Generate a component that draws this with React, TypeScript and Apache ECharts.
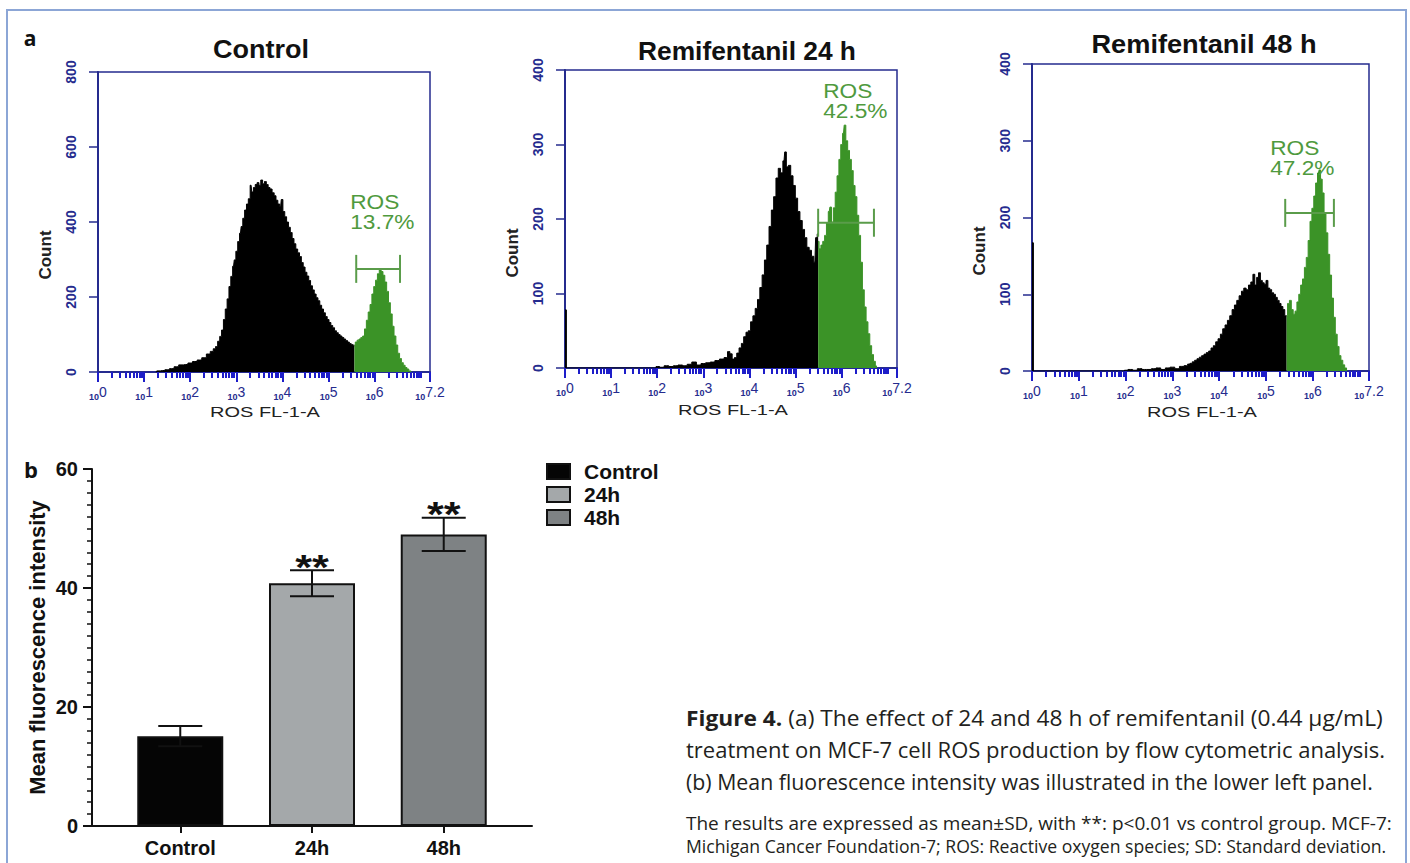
import React, { useEffect, useRef } from "react";
import * as echarts from "echarts";

// ---------------- data ----------------
const histTitles = ["Control", "Remifentanil 24 h", "Remifentanil 48 h"];
const histYMax = [800, 400, 400];
const histYInterval = [200, 100, 100];
const rosPercent = ["13.7%", "42.5%", "47.2%"];
const majorLogTicks = [0, 1, 2, 3, 4, 5, 6, 7.2];
const minorLogTicks: number[] = [];
for (let d = 0; d <= 6; d++) {
  for (let k = 2; k <= 9; k++) minorLogTicks.push(+(d + Math.log10(k)).toFixed(4));
}
minorLogTicks.push(7);

// [log10 fluorescence, count]
const controlBlack = [
  [1.25, 0], [1.3, 3], [1.4, 4], [1.5, 6], [1.6, 9], [1.7, 14], [1.8, 19], [1.9, 20], [2.0, 24], [2.1, 28],
  [2.2, 32], [2.3, 38], [2.4, 48], [2.47, 55], [2.53, 62], [2.57, 68], [2.62, 82], [2.66, 95], [2.7, 112],
  [2.74, 140], [2.78, 168], [2.82, 195], [2.86, 228], [2.9, 255], [2.94, 282], [2.97, 299], [3.01, 322],
  [3.05, 348], [3.09, 370], [3.12, 388], [3.16, 410], [3.2, 432], [3.24, 448], [3.28, 462], [3.32, 498],
  [3.35, 480], [3.39, 492], [3.43, 500], [3.47, 505], [3.51, 498], [3.55, 512], [3.59, 502], [3.63, 508],
  [3.67, 500], [3.71, 492], [3.75, 488], [3.8, 478], [3.84, 470], [3.88, 458], [3.92, 448], [3.96, 440],
  [3.99, 460], [4.03, 428], [4.07, 414], [4.11, 400], [4.15, 386], [4.19, 372], [4.23, 356], [4.27, 342],
  [4.31, 328], [4.35, 318], [4.39, 308], [4.43, 292], [4.47, 280], [4.51, 266], [4.55, 256], [4.59, 244],
  [4.63, 230], [4.67, 219], [4.71, 208], [4.75, 198], [4.79, 190], [4.83, 178], [4.87, 168], [4.91, 158],
  [4.95, 148], [4.99, 140], [5.03, 132], [5.07, 124], [5.11, 118], [5.15, 110], [5.19, 105], [5.23, 100],
  [5.27, 96], [5.31, 92], [5.35, 88], [5.39, 84], [5.43, 80], [5.47, 76], [5.51, 73], [5.56, 70],
];
const controlGreen = [
  [5.56, 72], [5.6, 80], [5.64, 85], [5.68, 88], [5.72, 92], [5.76, 96], [5.8, 115], [5.84, 138], [5.88, 160],
  [5.92, 180], [5.96, 208], [6.0, 228], [6.04, 245], [6.08, 262], [6.12, 272], [6.16, 268], [6.2, 258],
  [6.24, 240], [6.28, 215], [6.32, 185], [6.36, 155], [6.4, 122], [6.44, 96], [6.48, 72], [6.52, 50],
  [6.56, 36], [6.6, 25], [6.64, 18], [6.68, 12], [6.72, 8], [6.76, 3], [6.8, 0],
];
const h24Black = [
  [0, 78], [0.06, 0], [1.95, 0], [2.0, 2], [2.1, 1], [2.2, 3], [2.3, 2], [2.4, 3], [2.5, 4], [2.6, 3], [2.7, 5],
  [2.8, 8], [2.9, 4], [3.0, 6], [3.1, 7], [3.2, 8], [3.3, 10], [3.4, 12], [3.5, 14], [3.55, 22], [3.6, 19],
  [3.65, 12], [3.7, 14], [3.75, 20], [3.8, 27], [3.85, 33], [3.9, 42], [3.95, 48], [4.0, 50], [4.05, 62],
  [4.1, 70], [4.15, 80], [4.2, 92], [4.25, 108], [4.3, 125], [4.35, 145], [4.4, 165], [4.45, 190], [4.5, 212],
  [4.55, 230], [4.6, 255], [4.65, 268], [4.7, 262], [4.75, 278], [4.78, 290], [4.82, 270], [4.87, 272],
  [4.92, 258], [4.97, 245], [5.02, 228], [5.07, 210], [5.12, 198], [5.17, 186], [5.22, 175], [5.27, 162],
  [5.32, 158], [5.37, 150], [5.42, 142], [5.45, 175], [5.49, 180],
];
const h24Green = [
  [5.49, 170], [5.53, 160], [5.57, 165], [5.61, 170], [5.65, 178], [5.69, 195], [5.73, 210], [5.76, 216],
  [5.8, 196], [5.84, 215], [5.88, 236], [5.92, 258], [5.96, 280], [6.0, 300], [6.04, 315], [6.07, 326],
  [6.11, 305], [6.15, 292], [6.19, 280], [6.23, 265], [6.27, 245], [6.31, 230], [6.35, 205], [6.39, 178],
  [6.43, 142], [6.47, 105], [6.51, 82], [6.55, 62], [6.59, 46], [6.63, 30], [6.67, 18], [6.71, 9], [6.75, 3],
  [6.78, 0],
];
const h48Black = [
  [0, 167], [0.06, 0], [1.95, 0], [2.0, 1], [2.1, 2], [2.2, 1], [2.3, 3], [2.4, 2], [2.5, 2], [2.6, 3], [2.7, 4],
  [2.8, 2], [2.9, 4], [3.0, 5], [3.1, 3], [3.2, 6], [3.3, 7], [3.35, 9], [3.4, 10], [3.45, 12], [3.5, 14],
  [3.55, 16], [3.6, 18], [3.65, 20], [3.7, 22], [3.75, 24], [3.8, 26], [3.85, 30], [3.9, 33], [3.95, 38],
  [4.0, 42], [4.05, 48], [4.1, 55], [4.15, 60], [4.2, 66], [4.25, 72], [4.3, 80], [4.35, 86], [4.4, 92],
  [4.45, 98], [4.5, 104], [4.55, 108], [4.6, 106], [4.65, 112], [4.7, 116], [4.74, 126], [4.78, 112],
  [4.82, 122], [4.86, 128], [4.9, 118], [4.94, 115], [4.98, 113], [5.02, 118], [5.06, 108], [5.1, 106],
  [5.14, 102], [5.18, 100], [5.22, 96], [5.26, 92], [5.3, 88], [5.34, 84], [5.38, 80], [5.42, 72], [5.44, 72],
];
const h48Green = [
  [5.44, 72], [5.48, 88], [5.52, 92], [5.56, 80], [5.6, 74], [5.64, 78], [5.68, 90], [5.72, 100], [5.76, 112],
  [5.8, 120], [5.84, 135], [5.88, 148], [5.92, 170], [5.96, 195], [6.0, 212], [6.04, 228], [6.08, 245],
  [6.12, 258], [6.15, 262], [6.18, 250], [6.22, 232], [6.26, 205], [6.3, 180], [6.34, 152], [6.38, 125],
  [6.42, 95], [6.46, 70], [6.5, 48], [6.54, 32], [6.58, 20], [6.62, 14], [6.66, 8], [6.7, 4], [6.74, 0],
];
// gate: [start exp, end exp, count]
const controlGate = [5.6, 6.55, 275];
const h24Gate = [5.49, 6.7, 195];
const h48Gate = [5.41, 6.45, 206];
// "ROS" label anchor: [exp, count]
const controlRosAt = [5.47, 453];
const h24RosAt = [5.6, 372];
const h48RosAt = [5.09, 291];

const histBlack = [controlBlack, h24Black, h48Black];
const histGreen = [controlGreen, h24Green, h48Green];
const histGates = [controlGate, h24Gate, h48Gate];
const histRosAt = [controlRosAt, h24RosAt, h48RosAt];

const barCategories = ["Control", "24h", "48h"];
const barMeans = [15.1, 40.8, 49.0];
const barSD = [1.7, 2.2, 2.8];
const barSig = ["", "**", "**"];

const captionLines = [
  "(a) The effect of 24 and 48 h of remifentanil (0.44 µg/mL)",
  "treatment on MCF-7 cell ROS production by flow cytometric analysis.",
  "(b) Mean fluorescence intensity was illustrated in the lower left panel.",
];
const captionBoldLead = "Figure 4.";
const noteLines = [
  "The results are expressed as mean±SD, with **: p<0.01 vs control group. MCF-7:",
  "Michigan Cancer Foundation-7; ROS: Reactive oxygen species; SD: Standard deviation.",
];

// ---------------- layout / style ----------------
const NAVY = "#252b8e";
const TICK_BLUE = "#1d1dc9";
const FILL_GREEN = "#3b9327";
const TEXT_GREEN = "#4f9a3e";
const GATE_GREEN = "#5a9c4a";
const barColors = ["#050505", "#a4a8aa", "#7e8284"];
const histGrids = [
  { left: 98, top: 72, width: 332, height: 300 },
  { left: 565, top: 70, width: 332, height: 298 },
  { left: 1032, top: 64, width: 337, height: 307 },
];
const titlePos = [[261, 49, 96], [747, 51, 218], [1204, 44, 225]];
const countPos = [[45, 255], [512, 253], [979, 251]];
const xNamePos = [[265, 412], [733, 410], [1202, 412]];
const captionLeft = 686;
const captionRight = [1383, 1385, 1373];
const captionY = [718, 749, 781];
const noteRight = [1392, 1387];
const noteY = [823, 846];
const CAP_FONT = '"Open Sans", sans-serif';

function buildOption() {
  const ctx = document.createElement("canvas").getContext("2d") as CanvasRenderingContext2D;
  const measure = (t: string, font: string) => {
    ctx.font = font;
    return ctx.measureText(t).width;
  };

  const xAxes: any[] = [];
  const yAxes: any[] = [];
  const grids: any[] = [];
  const series: any[] = [];

  histGrids.forEach((g, i) => {
    grids.push({ ...g, show: true, borderColor: NAVY, borderWidth: 1.5, backgroundColor: "transparent", containLabel: false, outerBoundsMode: "none" });
    xAxes.push({
      type: "value", gridIndex: i, min: 0, max: 7.2, position: "bottom",
      axisLine: { show: true, onZero: false, lineStyle: { color: NAVY, width: 2 } },
      axisTick: { show: true, customValues: majorLogTicks, length: 10, lineStyle: { color: TICK_BLUE, width: 2 } },
      axisLabel: {
        show: true, customValues: majorLogTicks, margin: 15, color: NAVY,
        formatter: (v: number) => `{b|10}{e|${v}}`,
        rich: {
          b: { fontSize: 9, fontWeight: "bold", color: NAVY, fontFamily: "Arial", verticalAlign: "bottom", lineHeight: 10 },
          e: { fontSize: 14, color: NAVY, fontFamily: "Arial", verticalAlign: "bottom", lineHeight: 14, padding: [0, 0, 2, 0] },
        },
      },
      splitLine: { show: false },
    });
    xAxes.push({
      type: "value", gridIndex: i, min: 0, max: 7.2, position: "bottom",
      axisLine: { show: false },
      axisTick: { show: true, customValues: minorLogTicks, length: 6, lineStyle: { color: TICK_BLUE, width: 2 } },
      axisLabel: { show: false },
      splitLine: { show: false },
    });
    yAxes.push({
      type: "value", gridIndex: i, min: 0, max: histYMax[i], interval: histYInterval[i],
      axisLine: { show: true, onZero: false, lineStyle: { color: NAVY, width: 2 } },
      axisTick: { show: true, length: 9, lineStyle: { color: NAVY, width: 1.5 } },
      axisLabel: { rotate: 90, margin: 20, color: NAVY, fontWeight: "bold", fontSize: 14, fontFamily: "Arial" },
      splitLine: { show: false },
    });
    series.push({
      type: "line", xAxisIndex: 2 * i, yAxisIndex: i, data: histBlack[i], step: "middle", symbol: "none",
      lineStyle: { color: "#000", width: 1 }, areaStyle: { color: "#000", opacity: 1 }, silent: true, z: 2,
    });
    series.push({
      type: "line", xAxisIndex: 2 * i, yAxisIndex: i, data: histGreen[i], step: "middle", symbol: "none",
      lineStyle: { color: FILL_GREEN, width: 1 }, areaStyle: { color: FILL_GREEN, opacity: 1 }, silent: true, z: 2,
    });
    series.push({
      type: "custom", xAxisIndex: 2 * i, yAxisIndex: i, silent: true, z: 5,
      data: [[...histGates[i], ...histRosAt[i]]],
      renderItem: (params: any, api: any) => {
        const a = api.coord([api.value(0), api.value(2)]);
        const b = api.coord([api.value(1), api.value(2)]);
        const lab = api.coord([api.value(3), api.value(4)]);
        const st = { stroke: GATE_GREEN, lineWidth: 2 };
        const ts = { fill: TEXT_GREEN, fontSize: 21, fontFamily: "Arial", align: "left", verticalAlign: "middle" };
        return {
          type: "group",
          children: [
            { type: "line", shape: { x1: a[0], y1: a[1], x2: b[0], y2: b[1] }, style: st },
            { type: "line", shape: { x1: a[0], y1: a[1] - 14, x2: a[0], y2: a[1] + 14 }, style: st },
            { type: "line", shape: { x1: b[0], y1: b[1] - 14, x2: b[0], y2: b[1] + 14 }, style: st },
            { type: "text", x: lab[0], y: lab[1], scaleX: 1.08, style: { ...ts, text: "ROS" } },
            { type: "text", x: lab[0], y: lab[1] + 20, scaleX: 1.08, style: { ...ts, text: rosPercent[i] } },
          ],
        };
      },
    });
  });

  // bar chart
  grids.push({ left: 92, top: 469, width: 440, height: 357, containLabel: false, outerBoundsMode: "none" });
  xAxes.push({
    type: "value", gridIndex: 3, min: -0.67, max: 2.67, position: "bottom",
    axisLine: { show: true, onZero: false, lineStyle: { color: "#111", width: 2 } },
    axisTick: { show: true, customValues: [0, 1, 2], length: 7, lineStyle: { color: "#111", width: 2 } },
    axisLabel: {
      customValues: [0, 1, 2], formatter: (v: number) => barCategories[Math.round(v)],
      fontSize: 20, fontWeight: "bold", color: "#111", fontFamily: "Arial", margin: 12,
    },
    splitLine: { show: false },
  });
  yAxes.push({
    type: "value", gridIndex: 3, min: 0, max: 60, interval: 20, position: "left",
    name: "Mean fluorescence intensity", nameLocation: "middle", nameGap: 44,
    nameTextStyle: { fontSize: 22, fontWeight: "bold", color: "#111", fontFamily: "Arial" },
    axisLine: { show: true, onZero: false, lineStyle: { color: "#111", width: 2 } },
    axisTick: { show: true, length: 9, lineStyle: { color: "#111", width: 2 } },
    minorTick: { show: true, splitNumber: 10, length: 5, lineStyle: { color: "#111", width: 1.5 } },
    axisLabel: { fontSize: 20, fontWeight: "bold", color: "#111", fontFamily: "Arial", margin: 14 },
    splitLine: { show: false },
    minorSplitLine: { show: false },
  });
  barCategories.forEach((name, i) => {
    series.push({
      type: "bar", name, xAxisIndex: 6, yAxisIndex: 3, data: [[i, barMeans[i]]], barWidth: 86, barGap: "-100%",
      itemStyle: { color: barColors[i], borderColor: "#111", borderWidth: 2 }, silent: true,
    });
  });
  series.push({
    type: "custom", xAxisIndex: 6, yAxisIndex: 3, silent: true, z: 10,
    data: barMeans.map((m, i) => [i, m - barSD[i], m + barSD[i]]),
    renderItem: (params: any, api: any) => {
      const x = api.value(0);
      const lo = api.coord([x, api.value(1)]);
      const hi = api.coord([x, api.value(2)]);
      const st = { stroke: "#111", lineWidth: 2 };
      const children: any[] = [
        { type: "line", shape: { x1: lo[0], y1: lo[1], x2: hi[0], y2: hi[1] }, style: st },
        { type: "line", shape: { x1: hi[0] - 22, y1: hi[1], x2: hi[0] + 22, y2: hi[1] }, style: st },
        { type: "line", shape: { x1: lo[0] - 22, y1: lo[1], x2: lo[0] + 22, y2: lo[1] }, style: st },
      ];
      const sig = barSig[params.dataIndex];
      if (sig) {
        children.push({
          type: "text", x: hi[0], y: hi[1] - 4, scaleX: 1.2,
          style: { text: sig, fontSize: 36, fontWeight: "bold", fontFamily: "Arial", fill: "#111", align: "center", verticalAlign: "middle" },
        });
      }
      return { type: "group", children };
    },
  });

  // graphic texts
  const elements: any[] = [];
  elements.push({ type: "rect", shape: { x: 7, y: 10, width: 1399, height: 900 }, style: { fill: "none", stroke: "#8ca6d6", lineWidth: 2 }, silent: true });
  elements.push({ type: "text", x: 30, y: 38, style: { text: "a", fontSize: 21, fontWeight: "bold", fontFamily: CAP_FONT, fill: "#111", align: "center", verticalAlign: "middle" } });
  elements.push({ type: "text", x: 31, y: 469, style: { text: "b", fontSize: 22, fontWeight: "bold", fontFamily: CAP_FONT, fill: "#111", align: "center", verticalAlign: "middle" } });
  histTitles.forEach((t, i) => {
    const [x, y, w] = titlePos[i];
    const nat = measure(t, 'bold 25px Arial');
    elements.push({ type: "text", x, y, scaleX: w / nat, style: { text: t, fontSize: 25, fontWeight: "bold", fontFamily: "Arial", fill: "#111", align: "center", verticalAlign: "middle" } });
    const [cx, cy] = countPos[i];
    elements.push({ type: "text", x: cx, y: cy, rotation: Math.PI / 2, style: { text: "Count", fontSize: 17, fontWeight: "bold", fontFamily: "Arial", fill: "#222", align: "center", verticalAlign: "middle" } });
    const [nx, ny] = xNamePos[i];
    const nn = measure("ROS FL-1-A", '15px Arial');
    elements.push({ type: "text", x: nx, y: ny, scaleX: 110 / nn, style: { text: "ROS FL-1-A", fontSize: 15, fontFamily: "Arial", fill: "#222", align: "center", verticalAlign: "middle" } });
  });
  captionLines.forEach((line, i) => {
    const fs = 22;
    let nat = measure(line, `${fs}px ${CAP_FONT}`);
    let text = line;
    const rich: any = { b: { fontSize: fs, fontWeight: "bold", fontFamily: CAP_FONT, fill: "#231f20" } };
    if (i === 0) {
      nat += measure(captionBoldLead + " ", `bold ${fs}px ${CAP_FONT}`);
      text = `{b|${captionBoldLead}} ${line}`;
    }
    elements.push({
      type: "text", x: captionLeft, y: captionY[i], scaleX: (captionRight[i] - captionLeft) / nat,
      style: { text, rich, fontSize: fs, fontFamily: CAP_FONT, fill: "#231f20", align: "left", verticalAlign: "middle" },
    });
  });
  noteLines.forEach((line, i) => {
    const fs = 18;
    const nat = measure(line, `${fs}px ${CAP_FONT}`);
    elements.push({
      type: "text", x: captionLeft, y: noteY[i], scaleX: (noteRight[i] - captionLeft) / nat,
      style: { text: line, fontSize: fs, fontFamily: CAP_FONT, fill: "#231f20", align: "left", verticalAlign: "middle" },
    });
  });

  return {
    animation: false,
    backgroundColor: "#ffffff",
    grid: grids,
    xAxis: xAxes,
    yAxis: yAxes,
    legend: {
      data: barCategories, orient: "vertical", left: 546, top: 461, padding: 0,
      itemWidth: 23, itemHeight: 15, itemGap: 2, icon: "rect", selectedMode: false,
      textStyle: { fontSize: 21, fontWeight: "bold", fontFamily: "Arial", color: "#111", lineHeight: 20, padding: [0, 0, 0, 9] },
    },
    series,
    graphic: { elements },
  };
}

export default function App() {
  const ref = useRef<HTMLDivElement>(null);
  useEffect(() => {
    if (!ref.current) return;
    const chart = echarts.init(ref.current, null, { renderer: "svg" });
    chart.setOption(buildOption() as any);
    return () => chart.dispose();
  }, []);
  return (
    <div
      ref={ref}
      style={{ position: "fixed", left: 0, top: 0, width: 1410, height: 863, background: "#fff" }}
    />
  );
}
